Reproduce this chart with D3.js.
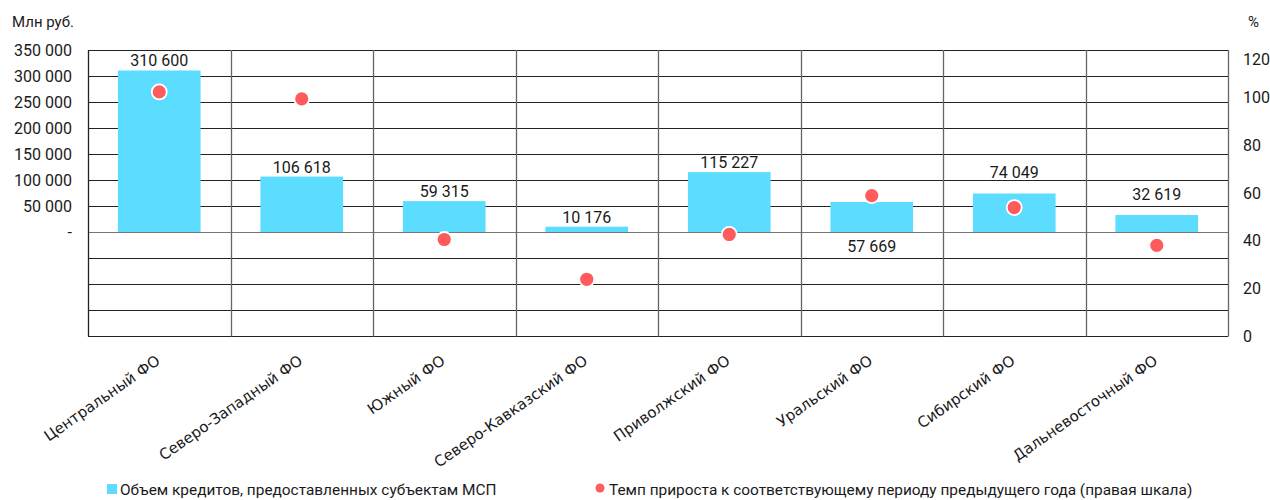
<!DOCTYPE html>
<html><head><meta charset="utf-8">
<script src="https://cdn.jsdelivr.net/npm/d3@7/dist/d3.min.js"></script>
<style>
body{margin:0;background:#fff;}
svg text{font-family:Roboto,"Noto Sans",sans-serif;fill:#1a1a1a;}
</style></head>
<body><svg id="c" width="1270" height="500"></svg>
<script>
const categories = ["Центральный ФО","Северо-Западный ФО","Южный ФО","Северо-Кавказский ФО","Приволжский ФО","Уральский ФО","Сибирский ФО","Дальневосточный ФО"];
const credits = [310600,106618,59315,10176,115227,57669,74049,32619];
const growth = [102.4,99.5,40.5,23.8,42.6,58.9,53.9,38.0];
const leftTicks = [0,50000,100000,150000,200000,250000,300000,350000];
const rightTicks = [0,20,40,60,80,100,120];
const legendLabels = ["Объем кредитов, предоставленных субъектам МСП","Темп прироста к соответствующему периоду предыдущего года (правая шкала)"];
const leftUnit = "Млн руб.", rightUnit = "%";

const svg = d3.select("#c");
const L = 88, R = 1228, T = 50, B = 336;
const barColor = "#5CDCFE", dotColor = "#FF5A5C";
// labels nudged upward in the original layout
const raisedLabels = new Set(["Сибирский ФО", "Дальневосточный ФО"]);

const x = d3.scaleBand().domain(categories).range([L, R]).paddingInner(0.42).paddingOuter(0.21);
const xb = d3.scaleBand().domain(categories).range([L, R]);
const yL = d3.scaleLinear().domain([-200000, 350000]).range([B, T]);
const yR = d3.scaleLinear().domain([0, 120]).range([B, T]);
const fmt = v => v === 0 ? "-" : d3.format(",")(v).replace(/,/g, " ");

// horizontal gridlines
const grid = d3.range(-200000, 350001, 50000);
svg.append("g").selectAll("line").data(grid).join("line")
  .attr("x1", L).attr("x2", R)
  .attr("y1", d => Math.round(yL(d)) + 0.5).attr("y2", d => Math.round(yL(d)) + 0.5)
  .attr("stroke", d => d === 0 ? "#777" : "#222").attr("stroke-width", 1);
// vertical separators
const vx = categories.map(c => xb(c)).concat([R]);
svg.append("g").selectAll("line").data(vx).join("line")
  .attr("x1", d => Math.round(d) + 0.5).attr("x2", d => Math.round(d) + 0.5)
  .attr("y1", T).attr("y2", B + 0.5)
  .attr("stroke", (d, i) => (i === 0) ? "#222" : "#666").attr("stroke-width", 1.3);

// bars
svg.append("g").selectAll("rect").data(credits).join("rect")
  .attr("x", (d, i) => x(categories[i])).attr("width", x.bandwidth())
  .attr("y", d => yL(d)).attr("height", d => yL(0) - yL(d))
  .attr("fill", barColor);

// dots
svg.append("g").selectAll("circle").data(growth).join("circle")
  .attr("cx", (d, i) => xb(categories[i]) + xb.bandwidth() / 2)
  .attr("cy", d => yR(d)).attr("r", 7.5)
  .attr("fill", dotColor).attr("stroke", "#fff").attr("stroke-width", 1.8);

// bar value labels (placed below baseline if a dot collides)
svg.append("g").selectAll("text").data(credits).join("text")
  .attr("x", (d, i) => xb(categories[i]) + xb.bandwidth() / 2)
  .attr("y", (d, i) => {
    const above = yL(d) - 4 - (raisedLabels.has(categories[i]) ? 11 : 0);
    const dy = yR(growth[i]);
    return (dy > above - 22 && dy < above + 10) ? yL(0) + 20 : above;
  })
  .attr("text-anchor", "middle").attr("font-size", 16)
  .text(d => fmt(d));

// left axis labels
svg.append("g").selectAll("text").data(leftTicks).join("text")
  .attr("x", 72).attr("y", d => yL(d)).attr("dy", "0.35em")
  .attr("text-anchor", "end").attr("font-size", 16).text(fmt);
// right axis labels
svg.append("g").selectAll("text").data(rightTicks).join("text")
  .attr("x", 1243).attr("y", d => Math.max(yR(d), 59)).attr("dy", "0.35em")
  .attr("font-size", 16).text(d => d);

svg.append("text").attr("x", 12).attr("y", 27).attr("font-size", 15).text(leftUnit);
svg.append("text").attr("x", 1248).attr("y", 27).attr("font-size", 15).text(rightUnit);

// category labels
svg.append("g").selectAll("text").data(categories).join("text")
  .attr("transform", c => `translate(${xb(c) + xb.bandwidth() / 2 + 2},${B + 27}) rotate(-35)`)
  .attr("text-anchor", "end").attr("font-size", 15)
  .style("font-family", "'DejaVu Sans', sans-serif")
  .text(c => c);

// legend
const lg = svg.append("g");
lg.append("rect").attr("x", 107).attr("y", 484).attr("width", 10).attr("height", 10).attr("fill", barColor);
lg.append("text").attr("x", 120).attr("y", 495).attr("font-size", 15.4).text(legendLabels[0]);
lg.append("circle").attr("cx", 600).attr("cy", 488).attr("r", 4.5).attr("fill", dotColor);
lg.append("text").attr("x", 609).attr("y", 495).attr("font-size", 15.4).text(legendLabels[1]);
</script></body></html>
